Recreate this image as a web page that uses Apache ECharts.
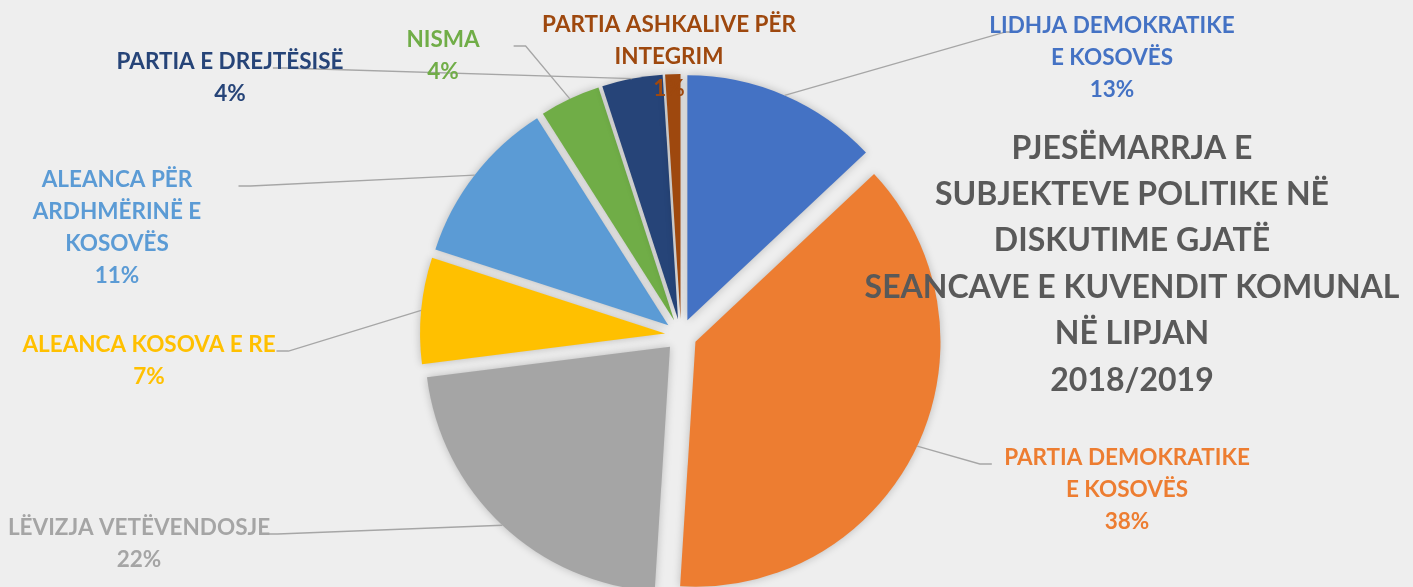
<!DOCTYPE html>
<html>
<head>
<meta charset="utf-8">
<script src="https://cdn.jsdelivr.net/npm/echarts@6/dist/echarts.min.js"></script>
<style>
html,body{margin:0;padding:0;background:#EEEEEE;}
#chart{width:1413px;height:587px;}
</style>
</head>
<body>
<div id="chart"></div>
<script>
// ---- data ----
const categories = [
  'LIDHJA DEMOKRATIKE E KOSOVËS',
  'PARTIA DEMOKRATIKE E KOSOVËS',
  'LËVIZJA VETËVENDOSJE',
  'ALEANCA KOSOVA E RE',
  'ALEANCA PËR ARDHMËRINË E KOSOVËS',
  'NISMA',
  'PARTIA E DREJTËSISË',
  'PARTIA ASHKALIVE PËR INTEGRIM'
];
const labelText = [
  ['LIDHJA DEMOKRATIKE', 'E KOSOVËS'],
  ['PARTIA DEMOKRATIKE', 'E KOSOVËS'],
  ['LËVIZJA VETËVENDOSJE'],
  ['ALEANCA KOSOVA E RE'],
  ['ALEANCA PËR', 'ARDHMËRINË E', 'KOSOVËS'],
  ['NISMA'],
  ['PARTIA E DREJTËSISË'],
  ['PARTIA ASHKALIVE PËR', 'INTEGRIM']
];
const values = [13, 38, 22, 7, 11, 4, 4, 1];
const titleLines = [
  'PJESËMARRJA E',
  'SUBJEKTEVE POLITIKE NË',
  'DISKUTIME GJATË',
  'SEANCAVE E KUVENDIT KOMUNAL',
  'NË LIPJAN',
  '2018/2019'
];

// ---- styles / layout ----
const colors = ['#4472C4', '#ED7D31', '#A5A5A5', '#FFC000', '#5B9BD5', '#70AD47', '#264478', '#9E480E'];
// label block anchor: [center x, top y]
const labelPos = [
  [1112, 10], [1127, 442], [139, 512], [149, 329],
  [117, 164], [443, 24], [230, 46], [669, 9]
];
const CENTER = [681, 335];
const RADIUS = 245;
const OFFSET = 16;
const FONT = 'Lato, "Open Sans", sans-serif';

const chart = echarts.init(document.getElementById('chart'));

const sliceData = categories.map((c, i) => ({
  name: c,
  value: values[i],
  selected: true,
  itemStyle: { color: colors[i] }
}));
const labelData = categories.map((c, i) => ({
  name: c,
  value: values[i],
  label: { color: colors[i] },
  labelLine: { show: i !== 7 }
}));

chart.setOption({
  backgroundColor: '#EEEEEE',
  animation: false,
  title: {
    text: titleLines.join('\n'),
    left: 1132,
    top: 125,
    padding: 0,
    textAlign: 'center',
    textStyle: {
      fontFamily: FONT,
      fontSize: 32,
      fontWeight: 'bold',
      color: '#595959',
      lineHeight: 46.4
    }
  },
  series: [{
    type: 'pie',
    center: CENTER,
    radius: RADIUS,
    startAngle: 90,
    clockwise: true,
    selectedMode: 'multiple',
    selectedOffset: OFFSET,
    data: sliceData,
    itemStyle: {
      borderWidth: 0,
      shadowBlur: 8,
      shadowColor: 'rgba(0,0,0,0.22)'
    },
    label: { show: false },
    labelLine: { show: false },
    emphasis: { disabled: true },
    z: 2
  }, {
    type: 'pie',
    center: CENTER,
    radius: RADIUS,
    startAngle: 90,
    clockwise: true,
    silent: true,
    selectedMode: false,
    avoidLabelOverlap: false,
    data: labelData,
    itemStyle: { color: 'rgba(0,0,0,0)', borderWidth: 0 },
    label: {
      show: true,
      position: 'outside',
      fontFamily: FONT,
      fontSize: 22.5,
      fontWeight: 'bold',
      lineHeight: 32,
      align: 'center',
      formatter: function (p) {
        return labelText[p.dataIndex].join('\n') + '\n' + Math.round(p.percent) + '%';
      }
    },
    labelLine: {
      show: true,
      length: 10,
      length2: 10,
      lineStyle: { color: '#A6A6A6', width: 1.3 }
    },
    emphasis: { disabled: true },
    z: 3,
    labelLayout: function (p) {
      const i = p.dataIndex;
      const pos = labelPos[i];
      const w = p.rect.width;
      const res = { x: pos[0], y: pos[1], align: 'center', verticalAlign: 'top' };
      const pts = p.labelLinePoints;
      if (pts && i !== 7) {
        const s = pts[0];
        const vx = s[0] - CENTER[0], vy = s[1] - CENTER[1];
        const len = Math.sqrt(vx * vx + vy * vy) || 1;
        const sx = s[0] + vx / len * OFFSET;
        const sy = s[1] + vy / len * OFFSET;
        const left = pos[0] - w / 2, right = pos[0] + w / 2;
        const ay = pos[1] + 22;
        let ax, ex;
        if (sx < left) { ax = left - 5; ex = ax - 12; }
        else { ax = right + 5; ex = ax + 12; }
        res.labelLinePoints = [[sx, sy], [ex, ay], [ax, ay]];
      }
      return res;
    }
  }]
});
</script>
</body>
</html>
